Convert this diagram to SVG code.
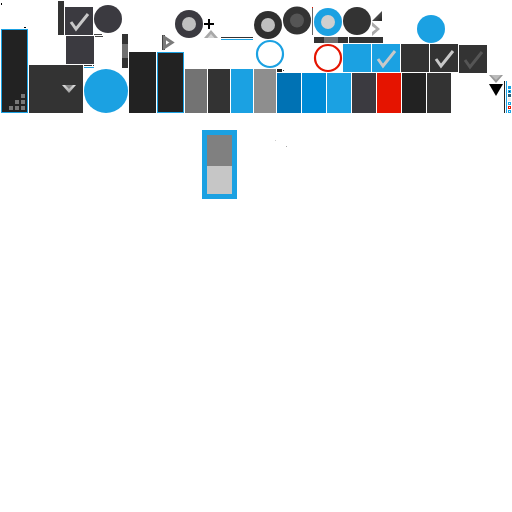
<svg xmlns="http://www.w3.org/2000/svg" width="512" height="512" viewBox="0 0 512 512">
<defs>
<style>
.d1{fill:#222222}.d2{fill:#333333}.d3{fill:#3b3a40}.bl{fill:#1ba1e2}.g{fill:#c6c6c6}
.chk{fill:none;stroke:#c8c8c8;stroke-width:3;stroke-linecap:butt;stroke-linejoin:miter}
.ring{fill:none;stroke-width:2.2}
</style>
<linearGradient id="chevL" x1="0" y1="0" x2="0" y2="1"><stop offset="0" stop-color="#e0e0e0"/><stop offset="1" stop-color="#9a9a9a"/></linearGradient>
<linearGradient id="triD" x1="0" y1="0" x2="1" y2="1"><stop offset="0" stop-color="#777"/><stop offset="1" stop-color="#222"/></linearGradient>
</defs>
<rect x="1" y="3" width="1" height="2" fill="#000"/>
<rect x="24" y="27" width="2" height="1" fill="#000"/>
<g id="panel-left">
<rect x="1.5" y="29.5" width="26" height="83" class="d1" stroke="#1ba1e2" stroke-width="1"/>
<g fill="#777">
<rect x="21" y="94" width="4" height="4"/>
<rect x="15" y="100" width="4" height="4"/><rect x="21" y="100" width="4" height="4"/>
<rect x="9" y="106" width="4" height="4"/><rect x="15" y="106" width="4" height="4"/><rect x="21" y="106" width="4" height="4"/>
</g>
</g>
<rect id="bar1" x="58" y="1" width="6" height="34" class="d2"/>
<g id="check1"><rect x="65" y="7" width="28" height="28" class="d3"/><path class="chk" d="M71,22 L76,29 L88,14"/></g>
<circle id="circ1" cx="108" cy="19" r="14" class="d3"/>
<rect x="94" y="34" width="8" height="1" fill="#444"/>
<rect x="95" y="36" width="8" height="1" fill="#444"/>
<rect id="sq2" x="66" y="36" width="28" height="28" class="d3"/>
<rect x="84" y="65" width="8" height="1" fill="#333"/>
<rect x="93" y="65" width="1" height="1" fill="#333"/>
<rect x="84" y="67" width="10" height="1" fill="#1ba1e2"/>
<g id="vbar"><rect x="122" y="34" width="6" height="10" class="d2"/><rect x="122" y="44" width="6" height="14" fill="#707070"/><rect x="122" y="58" width="6" height="10" class="d2"/></g>
<g id="dropdown"><rect x="29" y="65" width="54" height="48" class="d2"/><polygon points="62,85 76,85 69,93" fill="url(#chevL)"/><polygon points="65,85 73,85 69,89" fill="#333" opacity="0.5"/></g>
<circle id="bigblue" cx="106" cy="91" r="22" class="bl"/>
<g id="radio1"><circle cx="189" cy="24" r="14" class="d3"/><circle cx="189" cy="24" r="7" fill="#c0c0c0"/></g>
<path id="plus" d="M204,24 H214 M209,19 V29" stroke="#000" stroke-width="2"/>
<g id="upchev"><polygon points="204,38 211,30 218,38" fill="#a8a8a8"/><polygon points="207.5,38 211,34 214.5,38" fill="#d4d4d4"/></g>
<rect x="221" y="37" width="32" height="1" fill="#333"/>
<rect x="221" y="39" width="32" height="1" fill="#1ba1e2"/>
<g id="playchev"><rect x="162" y="35" width="3" height="15" fill="#444"/><polygon points="164.5,37.5 172,42.5 164.5,47.5" fill="none" stroke="#7a7a7a" stroke-width="3"/></g>
<g id="tiles">
<rect x="129" y="52" width="27" height="61" class="d1"/>
<rect x="157.5" y="52.5" width="26" height="60" class="d1" stroke="#1ba1e2" stroke-width="1"/>
<rect x="185" y="69" width="22" height="44" fill="#737373"/>
<rect x="208" y="69" width="22" height="44" class="d2"/>
<rect x="231" y="69" width="22" height="44" class="bl"/>
<rect x="254" y="69" width="22" height="44" fill="#8e8e8e"/>
<rect x="277" y="69" width="5" height="3" fill="#222"/>
<rect x="283" y="70" width="1" height="1" fill="#333"/>
<rect x="277" y="73" width="24" height="40" fill="#0072b4"/>
<rect x="302" y="73" width="24" height="40" fill="#008bd6"/>
<rect x="327" y="73" width="24" height="40" class="bl"/>
<rect x="352" y="73" width="24" height="40" class="d3"/>
<rect x="377" y="73" width="24" height="40" fill="#e51400"/>
<rect x="402" y="73" width="24" height="40" class="d1"/>
<rect x="427" y="73" width="24" height="40" class="d2"/>
</g>
<g id="radio2"><circle cx="268" cy="25" r="14" fill="#2f2f2f"/><circle cx="268" cy="25" r="7" fill="#bfbfbf"/></g>
<g id="radio3"><circle cx="297" cy="20.5" r="14" fill="#333"/><circle cx="297" cy="20.5" r="7" fill="#555"/></g>
<rect x="312" y="7" width="1" height="1" fill="#e51400"/>
<rect x="312" y="8" width="1" height="27" fill="#666"/>
<g id="radio4"><circle cx="328" cy="22" r="14" class="bl"/><circle cx="328" cy="22" r="7" fill="#cfcfcf"/></g>
<circle id="circ5" cx="357" cy="21" r="14" class="d2"/>
<polygon points="382,11 382,21 372,21" fill="url(#triD)"/>
<polygon points="372,22 380,29 372,36 372,32 376,29 372,26" fill="#aaaaaa"/>
<g id="slider"><rect x="314" y="37" width="10" height="6" class="d2"/><rect x="324" y="37" width="14" height="6" fill="#707070"/><rect x="338" y="37" width="10" height="6" class="d2"/><rect x="349" y="37" width="34" height="6" class="d2"/></g>
<circle cx="270" cy="54" r="13" class="ring" stroke="#1ba1e2"/>
<circle cx="328" cy="58" r="13" class="ring" stroke="#e51400"/>
<rect x="343" y="44" width="28" height="28" class="bl"/>
<g id="check2"><rect x="372" y="44" width="28" height="28" class="bl"/><path class="chk" d="M378,59 L383,66 L395,51"/></g>
<rect x="401" y="44" width="28" height="28" class="d2"/>
<g id="check3"><rect x="430" y="44" width="28" height="28" class="d2"/><path class="chk" d="M436,59 L441,66 L453,51"/></g>
<g id="check4"><rect x="459" y="45" width="28" height="28" class="d2"/><path class="chk" style="stroke:#555" d="M465,60 L470,67 L482,52"/></g>
<circle id="circ6" cx="431" cy="29" r="14" class="bl"/>
<polygon points="489,75 503,75 496,83" fill="#999"/>
<polygon points="491,75 501,75 496,80" fill="#bbb"/>
<polygon points="489,84 503,84 496,96" fill="#000"/>
<rect x="504" y="81" width="1" height="32" fill="#222"/>
<rect x="506" y="81" width="1" height="32" fill="#1ba1e2"/>
<g id="mini">
<rect x="508" y="86" width="3" height="3" fill="#1ba1e2"/>
<rect x="508" y="90" width="3" height="3" fill="#1ba1e2"/><rect x="509" y="91" width="1" height="1" fill="#222"/>
<rect x="508" y="94" width="3" height="3" fill="#2a5f7a"/>
<rect x="508" y="98" width="3" height="3" fill="#eeeeee"/>
<rect x="508.5" y="102.5" width="2" height="2" fill="#fff" stroke="#1ba1e2" stroke-width="1"/>
<rect x="508" y="106" width="3" height="3" fill="#e51400"/><rect x="509" y="107" width="1" height="1" fill="#fff"/>
<rect x="508.5" y="110.5" width="2" height="2" fill="#fff" stroke="#1ba1e2" stroke-width="1"/>
</g>
<g id="scroll"><rect x="202" y="130" width="35" height="69" class="bl"/><rect x="207" y="135" width="25" height="31" fill="#808080"/><rect x="207" y="166" width="25" height="28" fill="#c6c6c6"/></g>
<rect x="275" y="140" width="1" height="1" fill="#ccc"/>
<rect x="286" y="146" width="1" height="1" fill="#aaa"/>
</svg>
